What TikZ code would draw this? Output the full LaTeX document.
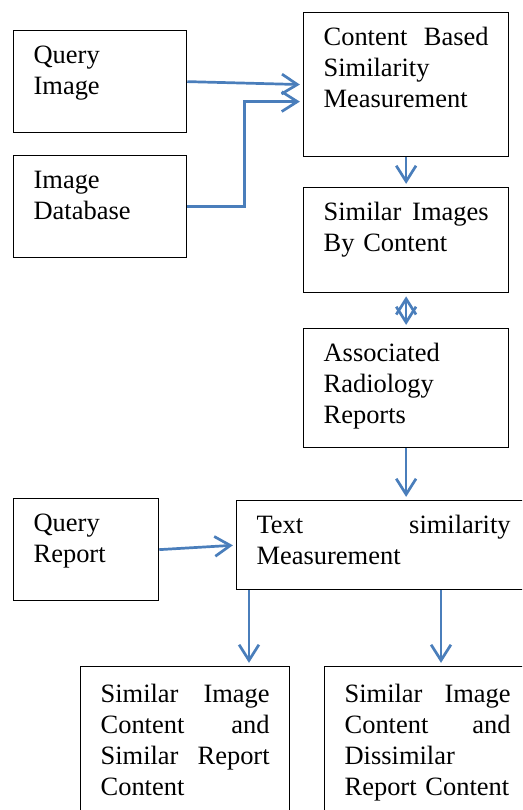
\documentclass[tikz,border=0pt]{standalone}
\usepackage{fontspec}
\setmainfont{Liberation Serif}
\usetikzlibrary{arrows.meta}
\definecolor{arrowblue}{HTML}{4A7EBB}

\begin{document}
\begin{tikzpicture}[x=0.48pt, y=-0.48pt,
    blk/.style={draw, line width=0.6pt, anchor=north west, align=left,
        inner xsep=9.6pt, inner ysep=0pt, text height=15.84pt,
        font=\fontsize{12.7}{14.9}\selectfont},
    arr/.style={draw=arrowblue, line width=1.3pt, shorten >=1.5pt,
        -{Straight Barb[length=7.5pt,width=9.5pt]}}]

    % 画布大小
    \useasboundingbox (0,0) rectangle (522,810);
    \clip (0,0) rectangle (522,810);

    % 左侧输入框
    \node[blk, text width=63.84pt, text depth=33.12pt] (qimg) at (13,30) {Query\\Image};
    \node[blk, text width=63.84pt, text depth=33.12pt] (imgdb) at (13,155) {Image\\Database};
    \node[blk, text width=50.4pt, text depth=33.12pt] (qrep) at (13,498) {Query\\Report};

    % 右侧流程框
    \node[blk, text width=79.2pt, text depth=53.28pt] (cbsm) at (303,12) {Content\hfill Based\\Similarity\\Measurement};
    \node[blk, text width=79.2pt, text depth=34.56pt] (simimg) at (303,187) {Similar\hfill Images\\By Content};
    \node[blk, text width=79.2pt, text depth=41.28pt] (assoc) at (303,328) {Associated\\Radiology\\Reports};
    \node[blk, text width=121.92pt, text depth=26.88pt] (tsm) at (236,500) {Text\hfill similarity\\Measurement};

    % 底部结果框
    \node[blk, text width=81.12pt, text height=17.28pt, text depth=61.44pt] (simsim) at (80,666)
        {Similar\hfill Image\\Content\hfill and\\Similar\hfill Report\\Content};
    \node[blk, text width=79.68pt, text height=17.28pt, text depth=61.44pt] (simdis) at (324,666)
        {Similar\hfill Image\\Content\hfill and\\Dissimilar\\Report Content};

    % 箭头
    \draw[arr] (qimg.east) -- (cbsm.west);
    \draw[arr] (imgdb.east) -- ++(57,0) |- ([yshift=-8.16pt]cbsm.west);
    \draw[arr] (cbsm.south) -- (simimg.north);
    \draw[arr, shorten <=1.5pt, {Straight Barb[length=7.5pt,width=9.5pt]}-{Straight Barb[length=7.5pt,width=9.5pt]}] (simimg.south) -- (assoc.north);
    \draw[arr] (assoc.south) -- (assoc.south |- tsm.north);
    \draw[arr] (qrep.east) -- (tsm.west);
    \coordinate (tl) at ([xshift=6.24pt]tsm.south west);
    \coordinate (tr) at ([xshift=98.4pt]tsm.south west);
    \draw[arr] (tl) -- (tl |- simsim.north);
    \draw[arr] (tr) -- (tr |- simdis.north);
\end{tikzpicture}
\end{document}
